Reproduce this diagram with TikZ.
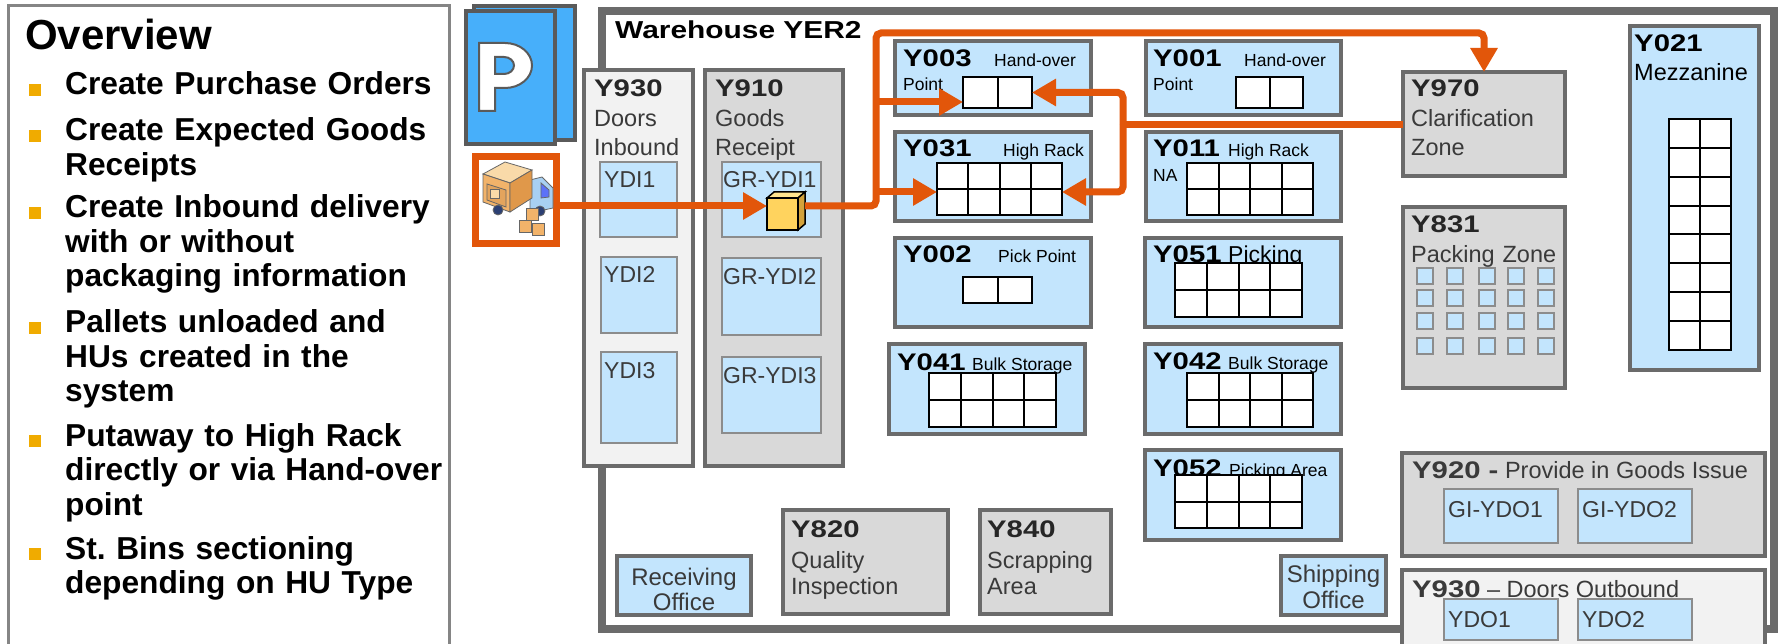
\documentclass[tikz,border=0pt]{standalone}
\usepackage{fontspec}
\setmainfont{Liberation Sans}
\newfontfamily\widefont{Liberation Sans}[FakeStretch=1.22]
\usetikzlibrary{arrows.meta}
\frenchspacing

\definecolor{zoneblue}{HTML}{C3E5FD}
\definecolor{zonegray}{HTML}{D9D9D9}
\definecolor{zonelight}{HTML}{F2F2F2}
\definecolor{edgegray}{HTML}{6B6B6B}
\definecolor{subedge}{HTML}{8C8C8C}
\definecolor{overgray}{HTML}{858585}
\definecolor{flowc}{HTML}{E2560A}
\definecolor{bulletgold}{HTML}{F0AB00}
\definecolor{iconblue}{HTML}{47AFFA}
\definecolor{icongray}{HTML}{5A5A5A}
\definecolor{labelgray}{HTML}{3A3A3A}
\definecolor{cubefront}{HTML}{FFD35E}
\definecolor{cubetop}{HTML}{FFE48F}
\definecolor{cubeside}{HTML}{D4A23A}
\definecolor{cargo}{HTML}{F2B36A}
\definecolor{cargotop}{HTML}{F9DAA9}
\definecolor{cargoside}{HTML}{E0984A}
\definecolor{cab}{HTML}{A8D0F2}
\definecolor{wheel}{HTML}{2B3F73}
\definecolor{turn}{HTML}{3AA53A}

% box given by the centre lines of its border: style, name, x1, y1, x2, y2
\newcommand\zone[6]{\node[#1,minimum width={(#5-#3)*1pt},minimum height={(#6-#4)*1pt}] (#2) at ({(#3+#5)/2},{(#4+#6)/2}) {};}
% storage-bin grid: name, x1, y1, x2, y2, columns, rows
\newcommand\rack[7]{%
  \zone{rackcell}{#1}{#2}{#3}{#4}{#5}
  \foreach \i in {1,...,#6}{\ifnum\i<#6\relax\draw[rackline] ({#2+(#4-#2)*\i/#6},#3) -- ({#2+(#4-#2)*\i/#6},#5);\fi}
  \foreach \j in {1,...,#7}{\ifnum\j<#7\relax\draw[rackline] (#2,{#3+(#5-#3)*\j/#7}) -- (#4,{#3+(#5-#3)*\j/#7});\fi}
}
\newcommand\codefont{\widefont\bfseries\fontsize{24}{28}\selectfont}

\begin{document}
\begin{tikzpicture}[x=1pt,y=-1pt,
  zone/.style={draw=edgegray,line width=4pt,inner sep=0pt,outer sep=0pt},
  bluezone/.style={zone,fill=zoneblue},
  grayzone/.style={zone,fill=zonegray},
  lightzone/.style={zone,fill=zonelight},
  subbin/.style={draw=subedge,line width=2pt,fill=zoneblue,inner sep=0pt,outer sep=0pt},
  rackcell/.style={draw=black,line width=2pt,fill=white,inner sep=0pt,outer sep=0pt},
  rackline/.style={draw=black,line width=2pt},
  sheet/.style={draw=icongray,line width=4pt,fill=iconblue,inner sep=0pt,outer sep=0pt},
  code/.style={inner sep=0pt,anchor=base west,font=\codefont,text=black},
  lbl/.style={inner sep=0pt,anchor=base west,font=\fontsize{23.5}{28.5}\selectfont,text=labelgray,text width=220pt,align=left},
  bin/.style={inner sep=0pt,anchor=base west,font=\fontsize{23}{26}\selectfont,text=labelgray},
  small/.style={inner sep=0pt,anchor=base west,font=\fontsize{17.5}{21}\selectfont,text=black},
  bullettext/.style={inner sep=0pt,anchor=base west,font=\bfseries\fontsize{31.7}{34.5}\selectfont,text=black,text width=400pt,align=left},
  flowline/.style={draw=flowc,line width=7pt,rounded corners=5pt},
  flowarrow/.style={flowline,-{Triangle[length=24pt,width=26pt]}},
]
\useasboundingbox (0,0) rectangle (1791,644);

% ---------- overview panel ----------
\zone{draw=overgray,line width=3pt,fill=white,inner sep=0pt,outer sep=0pt}{overview}{8}{6}{449.5}{720}
\node[inner sep=0pt,anchor=base west,font=\bfseries\fontsize{42}{48}\selectfont] (ovtitle) at (25,50) {Overview};
\foreach \b in {95,141,218,333,446,559} \fill[bulletgold] (29,\b-11) rectangle (41,\b+1);
\node[bullettext] (ov1) at (65,95) {Create Purchase Orders};
\node[bullettext] (ov2) at (65,141) {Create Expected Goods\\Receipts};
\node[bullettext] (ov3) at (65,218) {Create Inbound delivery\\with or without\\packaging information};
\node[bullettext] (ov4) at (65,333) {Pallets unloaded and\\HUs created in the\\system};
\node[bullettext] (ov5) at (65,446) {Putaway to High Rack\\directly or via Hand-over\\point};
\node[bullettext] (ov6) at (65,559) {St. Bins sectioning\\depending on HU Type};

% ---------- purchase order icon ----------
\zone{sheet}{psheetback}{474}{6}{575}{140}
\zone{sheet}{psheet}{466}{11}{555}{144}
\draw[fill=white,draw=icongray,line width=2pt,even odd rule]
  (479,43) -- (505,43) arc[start angle=-90,end angle=90,x radius=27,y radius=22.5]
  -- (495,88) -- (495,111) -- (479,111) -- cycle
  (495,57) -- (504,57) arc[start angle=-90,end angle=90,x radius=10,y radius=8.5]
  -- (495,74) -- cycle;

% ---------- delivery truck icon ----------
\zone{draw=flowc,line width=7pt,fill=white,inner sep=0pt,outer sep=0pt}{truck}{475.5}{156.5}{556.5}{243.5}
\begin{scope}[line width=0.8pt,draw=black!60]
  \filldraw[fill=cab] (530,180) -- (542,177) -- (553,188) -- (553,208) -- (530,213) -- cycle;
  \filldraw[fill=cab!55!blue] (541,183) -- (549,190) -- (549,197) -- (541,198) -- cycle;
  \filldraw[fill=cargotop] (483,174) -- (505,162) -- (532,170) -- (510,183) -- cycle;
  \filldraw[fill=cargo] (483,174) -- (510,183) -- (510,212) -- (483,202) -- cycle;
  \filldraw[fill=cargoside] (510,183) -- (532,170) -- (532,198) -- (510,212) -- cycle;
  \filldraw[fill=cargo!70!brown] (487,184) -- (506,190) -- (506,207) -- (487,200) -- cycle;
  \filldraw[fill=cargotop] (490,189) rectangle (499,198);
  \filldraw[fill=wheel] (498,210) circle[radius=5];
  \filldraw[fill=wheel] (540,211) circle[radius=5];
  \filldraw[fill=cargo] (526,208) rectangle (538,220);
  \filldraw[fill=cargo] (519,220) rectangle (531,232);
  \filldraw[fill=cargo] (532,223) rectangle (544,235);
\end{scope}
\draw[turn,line width=3pt,-{Triangle[length=7pt,width=9pt]}] (489,204) .. controls (487,224) and (497,230) .. (514,230);

% ---------- warehouse ----------
\zone{draw=edgegray,line width=8pt,fill=white,inner sep=0pt,outer sep=0pt}{whse}{601.5}{11}{1774}{629}
\node[inner sep=0pt,anchor=base west,font=\widefont\bfseries\fontsize{24.5}{28}\selectfont] (whsetitle) at (615,39) {Warehouse YER2};

% inbound doors and goods receipt
\zone{lightzone}{y930in}{584}{70}{693}{466}
\zone{grayzone}{y910}{705}{70}{843}{466}
\zone{subbin}{ydi1}{600}{162}{677}{237}
\zone{subbin}{ydi2}{601}{257}{677}{333}
\zone{subbin}{ydi3}{601}{352}{677}{443}
\zone{subbin}{grydi1}{722}{162}{821}{237}
\zone{subbin}{grydi2}{722}{258}{821}{335}
\zone{subbin}{grydi3}{722}{357}{821}{433}
\node[code,text=black!85] (t930in) at (594,97) {Y930};
\node[lbl] (l930in) at (594,127) {Doors\\Inbound};
\node[code,text=black!85] (t910) at (715,97) {Y910};
\node[lbl] (l910) at (715,127) {Goods\\Receipt};
\node[bin] (tydi1) at (604,188) {YDI1};
\node[bin] (tydi2) at (604,283) {YDI2};
\node[bin] (tydi3) at (604,378) {YDI3};
\node[bin] (tgr1) at (723,188) {GR-YDI1};
\node[bin] (tgr2) at (723,285) {GR-YDI2};
\node[bin] (tgr3) at (723,383) {GR-YDI3};

% storage types
\zone{bluezone}{y003}{895}{41}{1091}{115}
\zone{bluezone}{y031}{895}{132}{1091}{221}
\zone{bluezone}{y002}{895}{238}{1091}{327}
\zone{bluezone}{y041}{889}{344}{1085}{434}
\zone{bluezone}{y001}{1146}{41}{1341}{115}
\zone{bluezone}{y011}{1146}{132}{1341}{221}
\zone{bluezone}{y051}{1145}{238}{1341}{327}
\zone{bluezone}{y042}{1145}{344}{1341}{434}
\zone{bluezone}{y052}{1145}{450}{1341}{540}
\zone{grayzone}{y970}{1403}{72}{1565}{176}
\zone{grayzone}{y831}{1403}{207}{1565}{388}
\zone{bluezone}{y021}{1630}{26}{1759}{370}

\node[code] (t003) at (903,67) {Y003};
\node[small] (h003) at (994,67) {Hand-over};
\node[small] (p003) at (903,91) {Point};
\node[code] (t031) at (903,157) {Y031};
\node[small] (h031) at (1003,157) {High Rack};
\node[code] (t002) at (903,263) {Y002};
\node[small] (h002) at (998,263) {Pick Point};
\node[code] (t041) at (897,370) {Y041};
\node[small] (h041) at (972,370) {Bulk Storage};
\node[code] (t001) at (1153,67) {Y001};
\node[small] (h001) at (1244,67) {Hand-over};
\node[small] (p001) at (1153,91) {Point};
\node[code] (t011) at (1153,157) {Y011};
\node[small] (h011) at (1228,157) {High Rack};
\node[small] (n011) at (1153,182) {NA};
\node[code] (t051) at (1153,263) {Y051};
\node[small,font=\fontsize{23}{26}\selectfont] (h051) at (1228,263) {Picking};
\node[code] (t042) at (1153,369) {Y042};
\node[small] (h042) at (1228,369) {Bulk Storage};
\node[code] (t052) at (1153,476) {Y052};
\node[small] (h052) at (1229,476) {Picking Area};
\node[code,text=black!85] (t970) at (1411,97) {Y970};
\node[lbl,font=\fontsize{23.5}{29}\selectfont] (l970) at (1411,127) {Clarification\\Zone};
\node[code,text=black!85] (t831) at (1411,233) {Y831};
\node[lbl] (l831) at (1411,263) {Packing Zone};
\node[code] (t021) at (1634,52) {Y021};
\node[lbl,text=black] (l021) at (1634,81) {Mezzanine};

% bins
\rack{g003}{963}{77}{1032}{108}{2}{1}
\rack{g001}{1236}{77}{1303}{108}{2}{1}
\rack{g031}{937}{163}{1062}{215}{4}{2}
\rack{g011}{1187}{163}{1313}{215}{4}{2}
\rack{g002}{963}{277}{1032}{303}{2}{1}
\rack{g051}{1175}{263}{1302}{317}{4}{2}
\rack{g041}{929}{373}{1056}{427}{4}{2}
\rack{g042}{1187}{373}{1313}{427}{4}{2}
\rack{g052}{1175}{475}{1302}{528}{4}{2}
\rack{g021}{1669}{119}{1731}{350}{2}{8}

% packing stations
\foreach \px in {1417,1447,1479,1508,1538}
  \foreach \py in {268,290,313,338}
    \draw[draw=subedge,line width=1.5pt,fill=zoneblue] (\px,\py) rectangle ++(16,16);

% goods issue and outbound doors
\zone{grayzone}{y920}{1402}{453}{1765}{556}
\zone{subbin}{gi1}{1444}{489}{1558}{543}
\zone{subbin}{gi2}{1578}{489}{1692}{543}
\node[bin,font=\fontsize{23.5}{28}\selectfont] (t920) at (1412,478) {{\codefont Y920 -} Provide in Goods Issue};
\node[bin] (tgi1) at (1448,517) {GI-YDO1};
\node[bin] (tgi2) at (1582,517) {GI-YDO2};
\zone{lightzone}{y930out}{1402}{570}{1765}{670}
\zone{subbin}{ydo1}{1444}{599}{1558}{640}
\zone{subbin}{ydo2}{1578}{599}{1692}{640}
\node[bin,font=\fontsize{23.5}{28}\selectfont] (t930out) at (1412,597) {{\codefont Y930} – Doors Outbound};
\node[bin] (tydo1) at (1448,627) {YDO1};
\node[bin] (tydo2) at (1582,627) {YDO2};

% offices and special areas
\zone{bluezone}{recv}{617}{556}{751}{615}
\node[lbl,anchor=base,align=center,text width=130pt,font=\fontsize{24}{25}\selectfont] (trecv) at (684,585) {Receiving\\Office};
\zone{grayzone}{y820}{783}{510}{948}{614}
\node[code,text=black!85] (t820) at (791,537) {Y820};
\node[lbl,font=\fontsize{23.5}{26}\selectfont] (l820) at (791,568) {Quality\\Inspection};
\zone{grayzone}{y840}{980}{510}{1111}{614}
\node[code,text=black!85] (t840) at (987,537) {Y840};
\node[lbl,font=\fontsize{23.5}{26}\selectfont] (l840) at (987,568) {Scrapping\\Area};
\zone{bluezone}{ship}{1281}{556}{1386}{615}
\node[lbl,anchor=base,align=center,text width=104pt,font=\fontsize{24}{26}\selectfont] (tship) at (1333.5,582) {Shipping\\Office};

% ---------- handling unit ----------
\node[inner sep=0pt,outer sep=0pt,minimum width=38pt,minimum height=38pt] (cube) at (786,211) {};
\begin{scope}[draw=black,line width=1.5pt]
  \filldraw[fill=cubetop] (767,198) -- (774,192) -- (805,192) -- (798,198) -- cycle;
  \filldraw[fill=cubeside] (798,198) -- (805,192) -- (805,224) -- (798,230) -- cycle;
  \filldraw[fill=cubefront] (767,198) rectangle (798,230);
\end{scope}

% ---------- putaway flows ----------
\coordinate (rowin) at (0,206);
\coordinate (bendA) at (876,206);
\coordinate (topA) at (876,33);
\coordinate (topB) at (1484,33);
\coordinate (spine3) at (876,102);
\coordinate (spine31) at (876,192);
\coordinate (joinC) at (1123,125);

\draw[flowarrow] (truck.east |- rowin) -- (cube.west |- rowin);
\draw[flowarrow] (cube.east |- rowin) -- (bendA) -- (topA) -- (topB) -- (y970.north);
\draw[flowarrow] (spine3) -- (g003.west |- spine3);
\draw[flowarrow] (spine31) -- (g031.west |- spine31);
\draw[flowline] (y970.west |- joinC) -- (joinC);
\draw[flowarrow] (joinC) |- (g003.east);
\draw[flowarrow] (joinC) |- (g031.east |- spine31);
\end{tikzpicture}
\end{document}
